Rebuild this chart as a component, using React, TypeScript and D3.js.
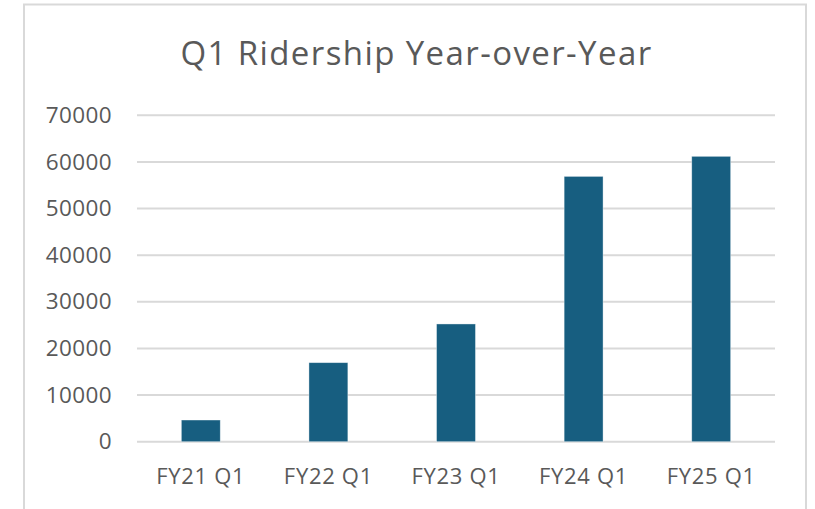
import React from "react";
import * as d3 from "d3";

const categories: string[] = ["FY21 Q1", "FY22 Q1", "FY23 Q1", "FY24 Q1", "FY25 Q1"];
const ridership: number[] = [4650, 16950, 25250, 56900, 61200];
const yTicks: number[] = [0, 10000, 20000, 30000, 40000, 50000, 60000, 70000];
const title = "Q1 Ridership Year-over-Year";

const W = 815;
const H = 509;
const FONT = "'Open Sans', 'Noto Sans', sans-serif";

export default function App() {
  const plotLeft = 137;
  const plotRight = 775;
  const plotTop = 115.3;
  const plotBottom = 441.7;

  const x = d3.scaleBand<string>().domain(categories).range([plotLeft, plotRight]).paddingInner(0.695).paddingOuter(0.3475);
  const y = d3.scaleLinear().domain([0, 70000]).range([plotBottom, plotTop]);

  return (
    <div style={{ position: "fixed", left: 0, top: 0, width: W, height: H, background: "#fff" }}>
      <svg width={W} height={H} style={{ display: "block" }}>
        <rect x={0} y={0} width={W} height={H} fill="#fff" />
        <rect x={24} y={4.5} width={782} height={530} fill="#fff" stroke="#d9d9d9" strokeWidth={2} />
        <text x={416.5} y={65} textAnchor="middle" fontFamily={FONT} fontSize={33} letterSpacing={1.4} fill="#595959">
          {title}
        </text>
        {yTicks.map((t) => (
          <g key={t}>
            <line x1={plotLeft} x2={plotRight} y1={y(t)} y2={y(t)} stroke="#d9d9d9" strokeWidth={2} />
            <text x={112} y={y(t) + 7.6} textAnchor="end" fontFamily={FONT} fontSize={22.5} letterSpacing={0.4} fill="#595959">
              {t}
            </text>
          </g>
        ))}
        {categories.map((c, i) => (
          <rect
            key={c}
            x={x(c)}
            y={y(ridership[i])}
            width={x.bandwidth()}
            height={y(0) - y(ridership[i])}
            fill="#175e80"
            stroke="#ffffff"
            strokeOpacity={0.5}
            strokeWidth={0.75}
          />
        ))}
        {categories.map((c) => (
          <text key={c} x={(x(c) as number) + x.bandwidth() / 2} y={483.5} textAnchor="middle" fontFamily={FONT} fontSize={22} letterSpacing={0.7} fill="#595959">
            {c}
          </text>
        ))}
      </svg>
    </div>
  );
}
